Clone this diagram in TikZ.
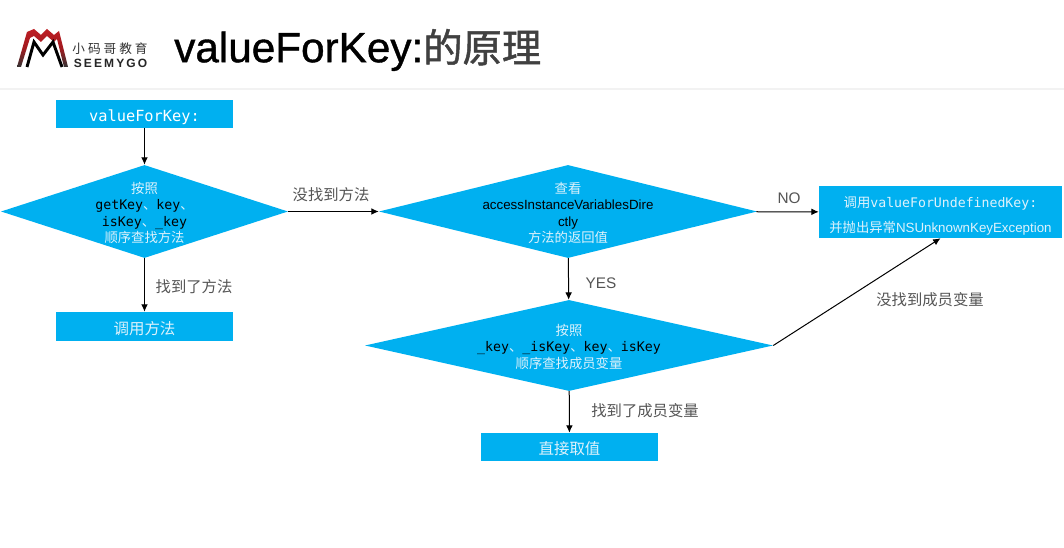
\documentclass[tikz,border=0pt]{standalone}
\usepackage{fontspec}
\setmainfont{Liberation Sans}
\setmonofont{DejaVu Sans Mono}
\newfontfamily\cjk{Noto Sans CJK SC}
\newfontfamily\titlelatin[FakeBold=0.9]{Liberation Sans}
\newfontfamily\titlecjk[FakeBold=1.2]{Noto Sans CJK SC}
\usetikzlibrary{shapes.geometric,arrows.meta}
\definecolor{boxblue}{RGB}{0,176,240}
\definecolor{labelgray}{RGB}{85,85,85}
\definecolor{logored}{RGB}{190,30,36}
\definecolor{pale}{RGB}{222,242,252}
\tikzset{
  flowbox/.style={rectangle,fill=boxblue,inner sep=0pt,text height=11.8pt,text depth=0pt},
  flowdiamond/.style={diamond,fill=boxblue,inner sep=0pt,aspect=3},
  flowtext/.style={align=center,text=pale,inner sep=0pt,yshift=-1pt,font=\fontsize{10pt}{12.4pt}\selectfont},
  flowlabel/.style={text=labelgray,inner sep=0pt,font=\fontsize{11.5pt}{14pt}\selectfont},
  flowarrow/.style={draw=black,line width=0.75pt,-{Latex[length=5.5pt,width=5pt]}},
}
\newcommand{\monotxt}[1]{{\ttfamily\fontsize{9.95pt}{12.4pt}\selectfont\textcolor{black}{#1}}}
\begin{document}
\begin{tikzpicture}[x=0.75pt,y=-0.75pt]
  \useasboundingbox (0,0) rectangle (1064,548);
  \fill[white] (0,0) rectangle (1064,548);
  % header
  \draw[color=black!5,line width=0.8pt] (0,89) -- (1064,89);
  \shade[top color=logored,bottom color=black!80,middle color=logored!85!black] (17,67) -- (27,32) -- (34,29) -- (41,35) -- (47,29) -- (54,35) -- (59,31) -- (68,67) -- (64,67) -- (57,39) -- (54,42) -- (47,36) -- (41,42) -- (34,36) -- (30,38) -- (21,67) -- cycle;
  \draw[black,line width=2.2pt,line join=miter] (27,67) -- (34,42) -- (43,55) -- (53,42) -- (62,67);
  \node (brandcn) at (110,49) [inner sep=0pt,text=black!80,font=\cjk\fontsize{9.5pt}{10pt}\selectfont] {小\kern2.2pt 码\kern2.2pt 哥\kern2.2pt 教\kern2.2pt 育};
  \node (branden) at (110.5,63.5) [inner sep=0pt,text=black!85,font=\fontsize{9pt}{10pt}\selectfont\bfseries] {S\kern1.6pt E\kern1.6pt E\kern1.6pt M\kern1.6pt Y\kern1.6pt G\kern1.6pt O};
  \node (title) at (174,50) [anchor=west,inner sep=0pt,font=\fontsize{31.7pt}{34pt}\selectfont] {{\titlelatin valueForKey:}{\titlecjk\fontsize{29.5pt}{34pt}\selectfont\textcolor{black!75}{的原理}}};
  % boxes
  \node (start) at (144.5,114) [flowbox,minimum width=132.75pt,minimum height=21pt,text=white] {\ttfamily\fontsize{11.5pt}{12pt}\selectfont valueForKey:};
  \node (call) at (144.5,326.5) [flowbox,minimum width=132.75pt,minimum height=21.75pt,text=pale,font=\cjk\fontsize{11.6pt}{12pt}\selectfont] {调用方法};
  \node (direct) at (569.5,447) [flowbox,minimum width=132.75pt,minimum height=21pt,text=pale,font=\cjk\fontsize{11.6pt}{12pt}\selectfont] {直接取值};
  \node (undefinedkey) at (940.5,212) [rectangle,fill=boxblue,inner sep=0pt,minimum width=182.25pt,minimum height=39pt] {};
  \node (undefinedtxt) at (undefinedkey) [flowtext,yshift=-2pt,font=\fontsize{10pt}{18.75pt}\selectfont] {{\cjk 调用}{\ttfamily\fontsize{9.9pt}{12pt}\selectfont valueForUndefinedKey:}\\{\cjk 并抛出异常}NSUnknownKeyException};
  % diamonds
  \node (methods) at (144.5,211.5) [flowdiamond,minimum width=215.25pt,minimum height=69.75pt] {};
  \node (methodstxt) at (methods) [flowtext] {{\cjk 按照}\\\monotxt{getKey{\cjk\textcolor{pale}{、}}key{\cjk\textcolor{pale}{、}}}\\\monotxt{isKey{\cjk\textcolor{pale}{、}}\_key}\\{\cjk 顺序查找方法}};
  \node (access) at (568,211.5) [flowdiamond,minimum width=283.5pt,minimum height=69.75pt] {};
  \node (accesstxt) at (access) [flowtext] {{\cjk 查看}\\\textcolor{black}{accessInstanceVariablesDire}\\\textcolor{black}{ctly}\\{\cjk 方法的返回值}};
  \node (ivars) at (569,345.5) [flowdiamond,minimum width=306pt,minimum height=68.25pt] {};
  \node (ivarstxt) at (ivars) [flowtext] {{\cjk 按照}\\\monotxt{\_key{\cjk\textcolor{pale}{、}}\_isKey{\cjk\textcolor{pale}{、}}key{\cjk\textcolor{pale}{、}}isKey}\\{\cjk 顺序查找成员变量}};
  % connectors
  \draw[flowarrow] (start) -- (methods);
  \draw[flowarrow] (methods) -- (call);
  \draw[flowarrow] (methods) -- (access);
  \draw[flowarrow] (access) -- (undefinedkey);
  \draw[flowarrow] (access) -- (ivars);
  \draw[flowarrow] (ivars) -- (direct);
  \draw[flowarrow] (ivars.east) -- (undefinedkey.south);
  % labels
  \node (lblnomethod) at (331,195) [flowlabel] {\cjk 没找到方法};
  \node (lblmethod) at (194,287) [flowlabel] {\cjk 找到了方法};
  \node (lblno) at (789,198) [flowlabel] {NO};
  \node (lblyes) at (601,283) [flowlabel] {YES};
  \node (lblnoivar) at (930,300) [flowlabel] {\cjk 没找到成员变量};
  \node (lblivar) at (645,411) [flowlabel] {\cjk 找到了成员变量};
\end{tikzpicture}
\end{document}
